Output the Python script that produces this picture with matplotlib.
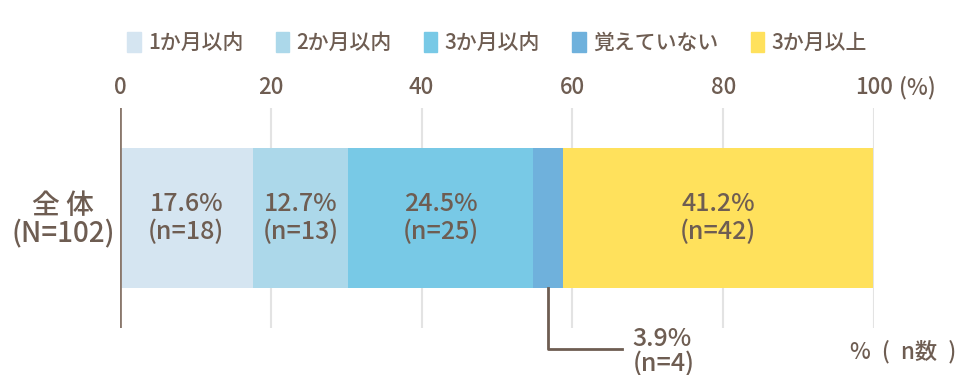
import matplotlib.pyplot as plt
import matplotlib.patches as patches

plt.rcParams['font.family'] = ['Noto Sans CJK JP', 'DejaVu Sans']

# data
categories = ["1か月以内", "2か月以内", "3か月以内", "覚えていない", "3か月以上"]
percents = [17.6, 12.7, 24.5, 3.9, 41.2]
counts = [18, 13, 25, 4, 42]
colors = ["#d5e5f1", "#acd8ea", "#78c9e6", "#6fb1dc", "#ffe15c"]
ticks = [0, 20, 40, 60, 80, 100]
tick_labels = ["0", "20", "40", "60", "80", "100"]
row_label = "全 体"
row_n = "(N=102)"

brown = "#6e5d52"
W, H = 962, 375

fig = plt.figure(figsize=(W / 100, H / 100), dpi=100)
# axes spanning gridline extent (px 108 -> 328 vertically, 120 -> 874 horizontally)
ax = fig.add_axes([120 / W, 1 - 328 / H, (874 - 120) / W, 220 / H])
ax.set_xlim(0, 100)
ax.set_ylim(0, 1)

for t in ticks[1:]:
    ax.axvline(t, color="#e3e3e3", lw=1.5, zorder=0)
ax.axvline(0, color="#8a786c", lw=2, zorder=3)

left = 0
mids = []
for p, n, c in zip(percents, counts, colors):
    ax.barh(0.5, p, left=left, height=0.64, color=c, zorder=2)
    mids.append(left + p / 2)
    if p > 10:
        ax.text(left + p / 2, 0.5, f"{p}%\n(n={n})", ha="center", va="center",
                fontsize=18, color=brown, linespacing=1.1, zorder=4,
                fontweight="medium")
    left += p

# callout for small segment
i = 3
bar_bottom = 0.5 - 0.32
y_call = -0.095
ax.plot([mids[i], mids[i], mids[i] + 9.8], [bar_bottom, y_call, y_call],
        color=brown, lw=2, clip_on=False, zorder=4)
ax.text(mids[i] + 11.2, y_call - 0.01, f"{percents[i]}%\n(n={counts[i]})", ha="left",
        va="center", fontsize=18, color=brown, linespacing=0.95, fontweight="medium")

# top tick labels
for t, lab in zip(ticks, tick_labels):
    fig.text((120 + t * 7.54) / W, 1 - 88 / H, lab, ha="center", va="center",
             fontsize=16, color=brown, fontweight="medium")
fig.text(899 / W, 1 - 88 / H, "(%)", ha="left", va="center", fontsize=16, color=brown,
         fontweight="medium")

ax.axis("off")

# row label
fig.text(63 / W, 1 - 205 / H, row_label, ha="center", va="center", fontsize=20,
         color=brown, fontweight="medium")
fig.text(63 / W, 1 - 234 / H, row_n, ha="center", va="center", fontsize=20,
         color=brown, fontweight="medium")

fig.text(850 / W, 1 - 352 / H, "%\u2002(\u2002n数\u2002)", ha="left", va="center",
         fontsize=16, color=brown, fontweight="medium")

handles = [patches.Patch(color=c) for c in colors]
leg = fig.legend(handles, categories, loc="center", ncol=5,
                 bbox_to_anchor=(497 / W, 1 - 43 / H), frameon=False,
                 handlelength=0.65, handleheight=1.1, handletextpad=0.35,
                 columnspacing=1.55, prop={"size": 15, "weight": "medium"})
for txt in leg.get_texts():
    txt.set_color(brown)

plt.savefig("out.png", dpi=100)
